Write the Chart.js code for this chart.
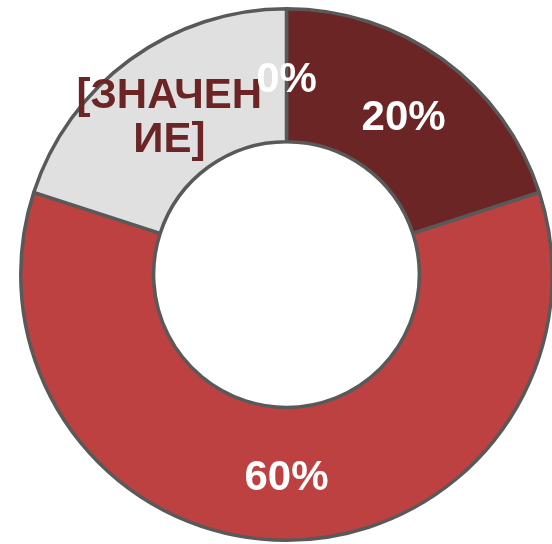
<!DOCTYPE html>
<html>
<head>
<meta charset="utf-8">
<script src="https://cdn.jsdelivr.net/npm/chart.js@4"></script>
<style>
  html, body { margin: 0; padding: 0; background: #ffffff; }
  body { width: 552px; height: 544px; position: relative; overflow: hidden; }
  #wrap { position: absolute; left: 19px; top: 7px; width: 535px; height: 535px; }
</style>
</head>
<body>
<div id="wrap"><canvas id="chart"></canvas></div>
<script>
// === Data ===
const categories = ['Q1', 'Q2', 'Q3', 'Q4'];
const values = [20, 60, 20, 0];
const sliceLabels = [['20%'], ['60%'], ['[ЗНАЧЕН', 'ИЕ]'], ['0%']];
const sliceColors = ['#6b2525', '#be4141', '#e0e0e0', '#e0e0e0'];
const labelColors = ['#ffffff', '#ffffff', '#6b2525', '#ffffff'];

// draws the text of each slice at its middle
const sliceLabelPlugin = {
    id: 'sliceLabelPlugin',
    afterDatasetsDraw(chart) {
        const ctx = chart.ctx;
        const meta = chart.getDatasetMeta(0);
        ctx.save();
        ctx.font = 'bold 42px "Liberation Sans", Arial, sans-serif';
        ctx.textAlign = 'center';
        ctx.textBaseline = 'middle';
        meta.data.forEach((arc, i) => {
            const p = arc.tooltipPosition();
            const lines = sliceLabels[i];
            const lh = 44;
            ctx.fillStyle = labelColors[i];
            lines.forEach((line, j) => {
                const y = p.y + 5 + (j - (lines.length - 1) / 2) * lh;
                ctx.fillText(line, p.x, y);
            });
        });
        ctx.restore();
    }
};

const ctx = document.getElementById('chart').getContext('2d');
new Chart(ctx, {
    type: 'doughnut',
    data: {
        labels: categories,
        datasets: [{
            data: values,
            backgroundColor: sliceColors,
            borderColor: '#595959',
            borderWidth: 3.5
        }]
    },
    options: {
        responsive: true,
        maintainAspectRatio: false,
        animation: false,
        cutout: '50%',
        plugins: {
            legend: { display: false },
            tooltip: { enabled: false }
        }
    },
    plugins: [sliceLabelPlugin]
});
</script>
</body>
</html>
